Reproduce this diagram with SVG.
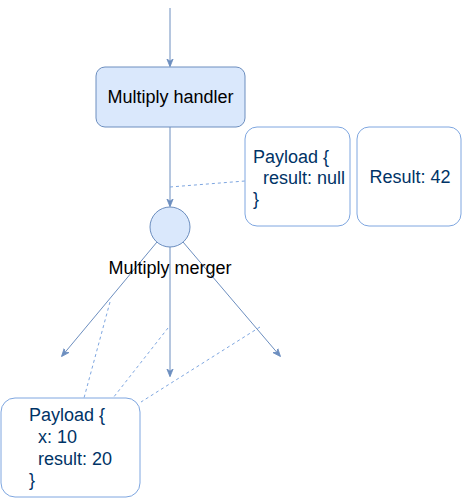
<svg xmlns="http://www.w3.org/2000/svg" width="462" height="499" viewBox="0 0 462 499">
<style>
.edge{stroke:#6c8ebf;stroke-width:1;fill:none}
.dash{stroke:#7ea6e0;stroke-width:1;fill:none;stroke-dasharray:3 3}
.node{fill:#dae8fc;stroke:#6c8ebf;stroke-width:1}
.note{fill:#ffffff;stroke:#7ea6e0;stroke-width:1}
.t{font-family:"Liberation Sans",Arial,sans-serif;font-size:18px;fill:#000000}
.n{font-family:"Liberation Sans",Arial,sans-serif;font-size:18px;fill:#003366}
</style>
<defs>
<marker id="arr" viewBox="0 0 10 10" refX="9" refY="5" markerWidth="8" markerHeight="8" markerUnits="userSpaceOnUse" orient="auto">
<path d="M0,1 L10,5 L0,9 L3,5 Z" fill="#6c8ebf" stroke="#6c8ebf"/>
</marker>
</defs>
<g id="connectors">
<line class="edge" x1="170" y1="8" x2="170" y2="66" marker-end="url(#arr)"/>
<line class="edge" x1="170" y1="127" x2="170" y2="206" marker-end="url(#arr)"/>
<line class="edge" x1="157" y1="242" x2="62" y2="356" marker-end="url(#arr)"/>
<line class="edge" x1="170" y1="247" x2="170" y2="376" marker-end="url(#arr)"/>
<line class="edge" x1="183" y1="242" x2="280" y2="356" marker-end="url(#arr)"/>
<line class="dash" x1="170" y1="187" x2="245" y2="181"/>
<line class="dash" x1="110" y1="302" x2="84" y2="398"/>
<line class="dash" x1="168" y1="328" x2="113" y2="398"/>
<line class="dash" x1="260" y1="327" x2="141" y2="402"/>
</g>
<g id="handler">
<rect class="node" x="96" y="67" width="149" height="60" rx="9"/>
<text class="t" x="170.5" y="103" text-anchor="middle">Multiply handler</text>
</g>
<g id="merger">
<circle class="node" cx="170" cy="227" r="20"/>
<text class="t" x="170" y="274" text-anchor="middle">Multiply merger</text>
</g>
<g id="payload1">
<rect class="note" x="245" y="127" width="105" height="99" rx="12"/>
<text class="n" x="253" y="163">Payload {</text>
<text class="n" x="263" y="184">result: null</text>
<text class="n" x="253" y="205">}</text>
</g>
<g id="result">
<rect class="note" x="357" y="127" width="104" height="99" rx="12"/>
<text class="n" x="410" y="183" text-anchor="middle">Result: 42</text>
</g>
<g id="payload2">
<rect class="note" x="1" y="398" width="139" height="99" rx="14"/>
<text class="n" x="29" y="421">Payload {</text>
<text class="n" x="38" y="443">x: 10</text>
<text class="n" x="38" y="465">result: 20</text>
<text class="n" x="29" y="486">}</text>
</g>
</svg>
